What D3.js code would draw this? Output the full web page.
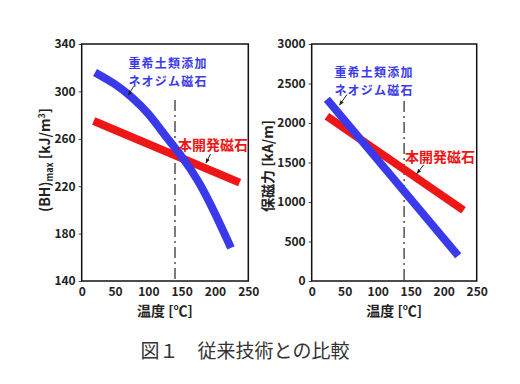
<!DOCTYPE html>
<html><head><meta charset="utf-8">
<script src="https://cdn.jsdelivr.net/npm/d3@7"></script>
<style>
html,body{margin:0;padding:0;background:#fff;}
svg{display:block;}
text{font-family:"Noto Sans CJK JP","Noto Sans",sans-serif;}
</style></head>
<body>
<svg id="c" width="520" height="384"></svg>
<script>
// ---- data ----
const xTicks = [0, 50, 100, 150, 200, 250];
const bhTicks = [140, 180, 220, 260, 300, 340];
const hcTicks = [0, 500, 1000, 1500, 2000, 2500, 3000];

// (BH)max chart
const bhOldTemp = [20, 50, 75, 100, 125, 150, 175, 200, 224];
const bhOldVal  = [316, 306, 295, 281, 263, 245, 224, 197, 168];
const bhNewTemp = [18, 237];
const bhNewVal  = [275, 223];

// coercivity chart
const hcOldTemp = [23, 222];
const hcOldVal  = [2300, 320];
const hcNewTemp = [23, 230];
const hcNewVal  = [2085, 895];

const refTemp = 140;
const labelOld = ["重希土類添加", "ネオジム磁石"];
const labelNew = "本開発磁石";
const xTitle = "温度 [℃]";
const caption = "図１　従来技術との比較";

const BLUE = "#3a3aea", RED = "#ee1616";

const svg = d3.select("#c");
svg.append("defs").append("marker")
  .attr("id","ah").attr("viewBox","0 0 10 10").attr("refX",9).attr("refY",5)
  .attr("markerWidth",5).attr("markerHeight",5).attr("orient","auto")
  .append("path").attr("d","M0,1 L10,5 L0,9 Z").attr("fill","#222");

function panel(opt){
  const g = svg.append("g");
  const x = d3.scaleLinear().domain([0,250]).range([opt.x0, opt.x1]);
  const y = d3.scaleLinear().domain(opt.yDomain).range([opt.y1, opt.y0]);

  const ya = g.append("g").attr("transform",`translate(${opt.x0},0)`)
    .call(d3.axisLeft(y).tickValues(opt.yTicks).tickSize(3).tickPadding(3).tickFormat(d3.format("d")));
  const xa = g.append("g").attr("transform",`translate(0,${opt.y1})`)
    .call(d3.axisBottom(x).tickValues(xTicks).tickSize(0).tickPadding(6));
  [ya,xa].forEach(a=>{
    a.select(".domain").remove();
    a.selectAll("text").attr("font-size",12).attr("font-weight","bold").attr("fill","#222")
      .style("font-family","'Noto Sans CJK JP',sans-serif");
    a.selectAll("line").attr("stroke","#444");
  });

  g.append("line").attr("x1",x(refTemp)).attr("x2",x(refTemp))
    .attr("y1",opt.refTop).attr("y2",opt.y1)
    .attr("stroke","#444").attr("stroke-width",1.4).attr("stroke-dasharray","11,4,2,4");

  const line = d3.line().x(d=>x(d[0])).y(d=>y(d[1]));
  const curve = d3.line().x(d=>x(d[0])).y(d=>y(d[1])).curve(d3.curveNatural);

  g.append("path").datum(d3.zip(opt.newT, opt.newV)).attr("d",line)
    .attr("fill","none").attr("stroke",RED).attr("stroke-width",8);
  g.append("path").datum(d3.zip(opt.oldT, opt.oldV)).attr("d",opt.oldT.length>2?curve:line)
    .attr("fill","none").attr("stroke",BLUE).attr("stroke-width",8);

  g.append("rect").attr("x",opt.x0).attr("y",opt.y0).attr("width",opt.x1-opt.x0).attr("height",opt.y1-opt.y0)
    .attr("fill","none").attr("stroke","#111").attr("stroke-width",1.5);

  labelOld.forEach((t,i)=>g.append("text").attr("x",opt.oldLab[0]).attr("y",opt.oldLab[1]+i*17.5)
    .attr("text-anchor","middle").attr("font-size",12).attr("letter-spacing",1.2)
    .attr("font-weight","bold").attr("fill",BLUE).text(t));
  g.append("text").attr("x",opt.newLab[0]).attr("y",opt.newLab[1]).attr("text-anchor","middle")
    .attr("font-size",14).attr("font-weight","bold").attr("fill",RED).text(labelNew);

  [opt.arrOld, opt.arrNew].forEach(a=>{
    g.append("line").attr("x1",a[0]).attr("y1",a[1]).attr("x2",a[2]).attr("y2",a[3])
      .attr("stroke","#222").attr("stroke-width",1).attr("marker-end","url(#ah)");
  });

  g.append("text").attr("x",(opt.x0+opt.x1)/2).attr("y",opt.y1+35).attr("text-anchor","middle")
    .attr("font-size",14).attr("font-weight","bold").attr("fill","#222").text(xTitle);
  return {x,y,g};
}

panel({x0:81.7,x1:248.3,y0:44,y1:281,yDomain:[140,340],yTicks:bhTicks,refTop:100,
  oldT:bhOldTemp,oldV:bhOldVal,newT:bhNewTemp,newV:bhNewVal,
  oldLab:[168,68],newLab:[213,150],arrOld:[133.5,86.5,128.5,95],arrNew:[210.5,154,206,163]});
panel({x0:311.7,x1:476.7,y0:44,y1:281,yDomain:[0,3000],yTicks:hcTicks,refTop:101,
  oldT:hcOldTemp,oldV:hcOldVal,newT:hcNewTemp,newV:hcNewVal,
  oldLab:[374,77],newLab:[440,162],arrOld:[347,94.5,339.5,105],arrNew:[423.5,165,417,173.5]});

const yt1 = svg.append("text").attr("transform","translate(50,160) rotate(-90)")
  .attr("text-anchor","middle").attr("font-size",14).attr("font-weight","bold").attr("fill","#222");
yt1.append("tspan").text("(BH)");
yt1.append("tspan").attr("font-size",9).attr("dy",3).text("max");
yt1.append("tspan").attr("dy",-3).text(" [kJ/m");
yt1.append("tspan").attr("font-size",9).attr("dy",-5).text("3");
yt1.append("tspan").attr("dy",5).text("]");

svg.append("text").attr("transform","translate(273,166) rotate(-90)")
  .attr("text-anchor","middle").attr("font-size",14).attr("font-weight","bold").attr("fill","#222")
  .text("保磁力 [kA/m]");

svg.append("text").attr("x",245).attr("y",358).attr("text-anchor","middle")
  .attr("font-size",19).attr("fill","#333").style("font-family","'Noto Sans CJK JP',serif")
  .text(caption);
</script>
</body></html>
